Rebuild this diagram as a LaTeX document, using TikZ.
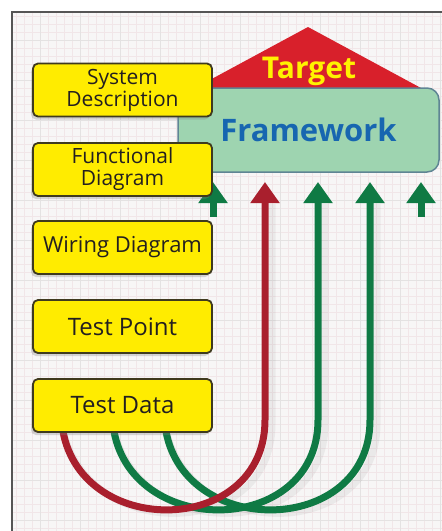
\documentclass[tikz,border=0pt]{standalone}
\usepackage{fontspec}
\setmainfont{Open Sans}
\usetikzlibrary{arrows.meta,shadows}
\definecolor{boxyellow}{HTML}{FFEC00}
\definecolor{boxedge}{HTML}{3F3A1E}
\definecolor{boxtext}{HTML}{231F20}
\definecolor{fwfill}{HTML}{9ED4B0}
\definecolor{fwedge}{HTML}{5F8594}
\definecolor{fwblue}{HTML}{1766B0}
\definecolor{targetred}{HTML}{D8202B}
\definecolor{targetyellow}{HTML}{FFF200}
\definecolor{redline}{HTML}{A91F2D}
\definecolor{greenline}{HTML}{0F7A44}
\definecolor{gridbg}{HTML}{F7F6F6}
\definecolor{gridpink}{HTML}{F1E6E8}
\definecolor{gridgray}{HTML}{E4E2E2}
\definecolor{framegray}{HTML}{555555}
\newcommand\fsA{\fontsize{21}{22}\selectfont}
\newcommand\fsB{\fontsize{22}{24}\selectfont}
\newcommand\fsC{\fontsize{24}{26}\selectfont}
\tikzset{
  ybox/.style={draw=boxedge, fill=boxyellow, line width=1.8pt, rounded corners=5pt,
    minimum width=179pt, minimum height=53pt, inner sep=2pt, align=center, text=boxtext,
    drop shadow={shadow xshift=-2pt, shadow yshift=-3pt, opacity=0.3, fill=black!50}},
  fwbox/.style={draw=fwedge, fill=fwfill, line width=1.5pt, rounded corners=12pt,
    minimum width=261pt, minimum height=84pt, text=fwblue,
    font=\bfseries\fontsize{31}{36}\selectfont},
  flow/.style={line width=7pt, -{Triangle[width=28pt,length=21pt]}},
  ghost/.style={line width=7pt, draw=black, opacity=0.05},
}
\begin{document}
\begin{tikzpicture}[x=1pt,y=-1pt]
\useasboundingbox (0,0) rectangle (442,531);
\fill[white] (0,0) rectangle (442,531);
\fill[gridbg] (12,12) rectangle (442,531);
\draw[gridpink, line width=0.4pt, step=8pt] (12,12) grid (442,531);
\draw[gridgray, line width=0.5pt, step=40pt] (12,12) grid (442,531);
\draw[framegray, line width=1.2pt] (12,531) -- (12,12) -- (442,12);

% target roof
\fill[targetred] (195,88) -- (308,27) -- (421,88) -- cycle;
\node[font=\bfseries\fontsize{30}{34}\selectfont, text=targetyellow, anchor=base] (tg) at (309,78) {Target};

% framework
\node[fwbox] (fw) at (308.5,130) {Framework};

% named ends
\coordinate (r0) at (62,425);
\coordinate (g10) at (113,425);
\coordinate (g20) at (165,425);
\coordinate (rt) at (265,182);
\coordinate (g1t) at (318,182);
\coordinate (g2t) at (370,182);
\coordinate (s1b) at (213,217);
\coordinate (s1t) at (213,182);
\coordinate (s2b) at (421,217);
\coordinate (s2t) at (421,182);

% faint shadows of connectors
\begin{scope}[shift={(7,4)}]
\draw[ghost] (r0) .. controls (76,540) and (265,538) .. (265,420) -- (265,200);
\draw[ghost] (g10) .. controls (127,540) and (318,538) .. (318,420) -- (318,200);
\draw[ghost] (g20) .. controls (179,540) and (370,538) .. (370,420) -- (370,200);
\end{scope}

% connectors
\draw[flow, greenline] (g20) .. controls (179,540) and (370,538) .. (370,420) -- (g2t);
\draw[flow, greenline] (g10) .. controls (127,540) and (318,538) .. (318,420) -- (g1t);
\draw[flow, redline] (r0) .. controls (76,540) and (265,538) .. (265,420) -- (rt);
\draw[flow, greenline] (s1b) -- (s1t);
\draw[flow, greenline] (s2b) -- (s2t);

% yellow boxes
\node[ybox, font=\fsA] (sd) at (122.5,90) {System\\Description};
\node[ybox, font=\fsA] (fd) at (122.5,169.5) {Functional\\Diagram};
\node[ybox, font=\fsB] (wd) at (122.5,247.5) {Wiring Diagram};
\node[ybox, font=\fsC] (tp) at (122.5,326.5) {Test Point};
\node[ybox, font=\fsC] (td) at (122.5,405.5) {Test Data};
\end{tikzpicture}
\end{document}
